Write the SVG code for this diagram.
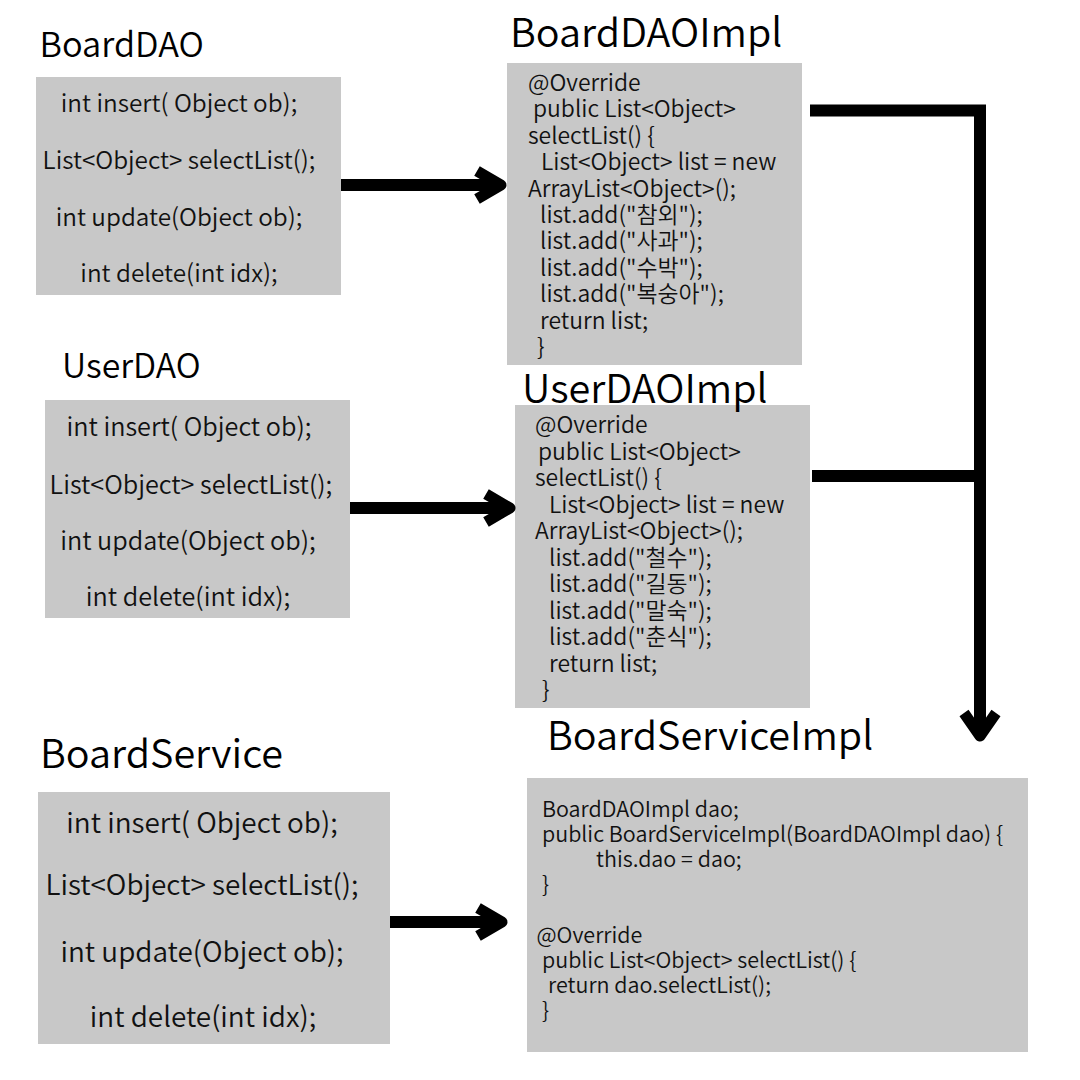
<svg xmlns="http://www.w3.org/2000/svg" width="1080" height="1080" viewBox="0 0 1080 1080">
<style>
text{font-family:'Noto Sans CJK KR','Noto Sans',sans-serif;fill:#111;font-weight:350}
.title{font-size:34.4px;fill:#000}
.title3{font-size:33.8px;fill:#000}
.title2{font-size:39.6px;fill:#000}
.box{fill:#c8c8c8}
.c{text-anchor:middle}
.m1{font-size:24.3px}
.m1b{font-size:25.2px}
.m2{font-size:27.9px}
.code{font-size:22.9px}
.code2{font-size:21.5px}
.conn{stroke:#000;stroke-width:12;fill:none}
.head{stroke:#000;stroke-width:11;fill:none;stroke-linejoin:round}
</style>
<defs>
<marker id="ah" markerUnits="userSpaceOnUse" orient="auto" overflow="visible" markerWidth="40" markerHeight="40" refX="0" refY="0">
<path d="M -24 -14 L 0 0 L -24 14" class="head"/>
</marker>
</defs>
<rect width="1080" height="1080" fill="#fff"/>

<g id="BoardDAO">
<text class="title" x="39.5" y="57">BoardDAO</text>
<rect class="box" x="36" y="77" width="305" height="218"/>
<text class="m1 c" x="179" y="112">int insert( Object ob);</text>
<text class="m1 c" x="179" y="169">List&lt;Object&gt; selectList();</text>
<text class="m1 c" x="179" y="226">int update(Object ob);</text>
<text class="m1 c" x="179" y="282">int delete(int idx);</text>
</g>

<g id="UserDAO">
<text class="title3" x="62" y="378">UserDAO</text>
<rect class="box" x="45" y="400" width="305" height="218"/>
<text class="m1b c" x="189" y="436">int insert( Object ob);</text>
<text class="m1b c" x="191" y="494">List&lt;Object&gt; selectList();</text>
<text class="m1b c" x="188" y="550">int update(Object ob);</text>
<text class="m1b c" x="188" y="606">int delete(int idx);</text>
</g>

<g id="BoardService">
<text class="title2" x="40" y="768">BoardService</text>
<rect class="box" x="38" y="792" width="352" height="252"/>
<text class="m2 c" x="202" y="833">int insert( Object ob);</text>
<text class="m2 c" x="202" y="895">List&lt;Object&gt; selectList();</text>
<text class="m2 c" x="202" y="962">int update(Object ob);</text>
<text class="m2 c" x="203" y="1027">int delete(int idx);</text>
</g>

<g id="BoardDAOImpl">
<text class="title2" x="510" y="47">BoardDAOImpl</text>
<rect class="box" x="507" y="63" width="295" height="302"/>
<text class="code" x="528" y="91">@Override</text>
<text class="code" x="533" y="117.4">public List&lt;Object&gt;</text>
<text class="code" x="528" y="143.8">selectList() {</text>
<text class="code" x="541" y="170.2">List&lt;Object&gt; list = new</text>
<text class="code" x="528" y="196.6">ArrayList&lt;Object&gt;();</text>
<text class="code" x="540" y="223">list.add("참외");</text>
<text class="code" x="540" y="249.4">list.add("사과");</text>
<text class="code" x="540" y="275.8">list.add("수박");</text>
<text class="code" x="540" y="302.2">list.add("복숭아");</text>
<text class="code" x="540" y="328.6">return list;</text>
<text class="code" x="537" y="355">}</text>
</g>

<g id="UserDAOImpl">
<rect class="box" x="515" y="405" width="295" height="303"/>
<text class="title2" x="522" y="403">UserDAOImpl</text>
<text class="code" x="535" y="433">@Override</text>
<text class="code" x="538" y="459.5">public List&lt;Object&gt;</text>
<text class="code" x="535" y="486">selectList() {</text>
<text class="code" x="549" y="512.5">List&lt;Object&gt; list = new</text>
<text class="code" x="535" y="539">ArrayList&lt;Object&gt;();</text>
<text class="code" x="549" y="565.5">list.add("철수");</text>
<text class="code" x="549" y="592">list.add("길동");</text>
<text class="code" x="549" y="618.5">list.add("말숙");</text>
<text class="code" x="549" y="645">list.add("춘식");</text>
<text class="code" x="549" y="671.5">return list;</text>
<text class="code" x="542" y="698">}</text>
</g>

<g id="BoardServiceImpl">
<text class="title2" x="547" y="750">BoardServiceImpl</text>
<rect class="box" x="527" y="778" width="501" height="274"/>
<text class="code2" x="542" y="817">BoardDAOImpl dao;</text>
<text class="code2" x="542" y="842">public BoardServiceImpl(BoardDAOImpl dao) {</text>
<text class="code2" x="596" y="867">this.dao = dao;</text>
<text class="code2" x="542" y="892">}</text>
<text class="code2" x="536.5" y="943">@Override</text>
<text class="code2" x="542" y="968">public List&lt;Object&gt; selectList() {</text>
<text class="code2" x="548" y="993">return dao.selectList();</text>
<text class="code2" x="542" y="1018">}</text>
</g>

<g id="connectors">
<line class="conn" x1="341" y1="185" x2="501" y2="185" marker-end="url(#ah)"/>
<line class="conn" x1="350" y1="508" x2="510" y2="508" marker-end="url(#ah)"/>
<line class="conn" x1="390" y1="922" x2="502" y2="922" marker-end="url(#ah)"/>
<path class="conn" d="M 810 110.5 H 980 V 736"/>
<line class="conn" x1="812" y1="476" x2="980" y2="476"/>
<path class="head" d="M 964 713 L 980 736 L 996 713"/>
</g>
</svg>
